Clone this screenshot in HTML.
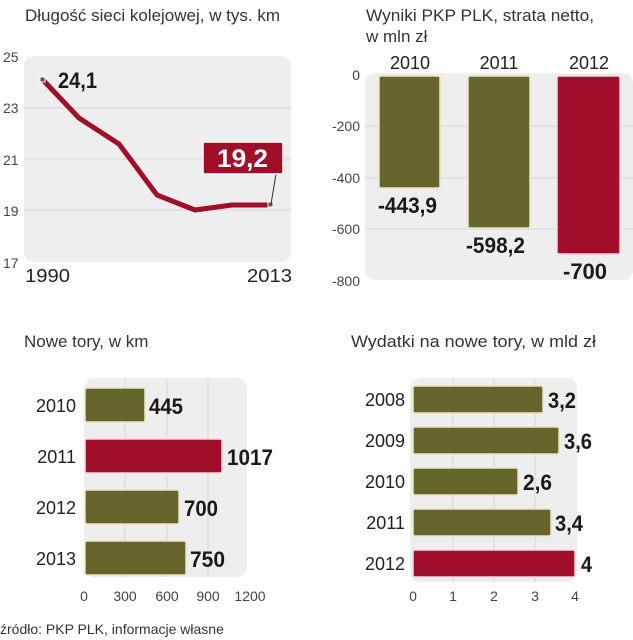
<!DOCTYPE html>
<html><head><meta charset="utf-8"><style>
html,body{margin:0;padding:0;background:#fff;}
svg{display:block;font-family:"Liberation Sans",sans-serif;}
.t{font-size:17px;fill:#333;}
.ax{font-size:14px;fill:#444;}
.yr{font-size:18px;fill:#222;}
.v{font-size:22px;font-weight:bold;fill:#1a1a1a;}
.g{stroke:#d6d6d6;stroke-width:1;}
.ol{fill:#66652b;stroke:#e8e3c8;stroke-width:1.5;}
.rd{fill:#a10e2a;stroke:#f0d8dc;stroke-width:1.5;}
</style></head><body>
<svg width="633" height="640" viewBox="0 0 633 640">
<!-- chart 1 -->
<text class="t" x="25" y="21" textLength="255" lengthAdjust="spacingAndGlyphs">Długość sieci kolejowej, w tys. km</text>
<rect x="24" y="56" width="267" height="206" rx="10" fill="#eeeeee"/>
<line class="g" x1="24" y1="108" x2="291" y2="108"/>
<line class="g" x1="24" y1="159" x2="291" y2="159"/>
<line class="g" x1="24" y1="210" x2="291" y2="210"/>
<text class="ax" x="3" y="62">25</text>
<text class="ax" x="3" y="113">23</text>
<text class="ax" x="3" y="165">21</text>
<text class="ax" x="3" y="216">19</text>
<text class="ax" x="3" y="268">17</text>
<polyline points="43,80 79,118 119,144 157,195 195,210 232,205 271,205" fill="none" stroke="#a10e2a" stroke-width="5" stroke-linejoin="round"/>
<rect x="40" y="77" width="5" height="5" fill="#555" stroke="#fff"/>
<rect x="268" y="202" width="5" height="5" fill="#555" stroke="#fff"/>
<line x1="271" y1="204" x2="276" y2="174" stroke="#333" stroke-width="1"/>
<text class="v" x="58" y="88" textLength="39" lengthAdjust="spacingAndGlyphs">24,1</text>
<rect x="203" y="142" width="80" height="32" rx="2" fill="#a10e2a" stroke="#fff" stroke-width="1.5"/>
<text x="217" y="167" font-size="25" font-weight="bold" fill="#fff" textLength="51" lengthAdjust="spacingAndGlyphs">19,2</text>
<text class="yr" x="25" y="282" font-size="20" textLength="45" lengthAdjust="spacingAndGlyphs">1990</text>
<text class="yr" x="247" y="282" font-size="20" textLength="45" lengthAdjust="spacingAndGlyphs">2013</text>
<!-- chart 2 -->
<text class="t" x="366" y="21" textLength="228" lengthAdjust="spacingAndGlyphs">Wyniki PKP PLK, strata netto,</text>
<text class="t" x="366" y="42">w mln zł</text>
<rect x="365" y="73" width="268" height="207" rx="10" fill="#eeeeee"/>
<line class="g" x1="365" y1="126" x2="633" y2="126"/>
<line class="g" x1="365" y1="178" x2="633" y2="178"/>
<line class="g" x1="365" y1="229" x2="633" y2="229"/>
<text class="ax" x="360" y="80" text-anchor="end">0</text>
<text class="ax" x="360" y="131" text-anchor="end">-200</text>
<text class="ax" x="360" y="183" text-anchor="end">-400</text>
<text class="ax" x="360" y="234" text-anchor="end">-600</text>
<text class="ax" x="360" y="286" text-anchor="end">-800</text>
<text class="yr" x="410" y="69" text-anchor="middle">2010</text>
<text class="yr" x="499" y="69" text-anchor="middle">2011</text>
<text class="yr" x="589" y="69" text-anchor="middle">2012</text>
<rect class="ol" x="379" y="76" width="61" height="112" rx="2"/>
<rect class="ol" x="468" y="76" width="62" height="152" rx="2"/>
<rect class="rd" x="557" y="76" width="63" height="178" rx="2"/>
<text class="v" x="378" y="213" textLength="59" lengthAdjust="spacingAndGlyphs">-443,9</text>
<text class="v" x="466" y="253" textLength="59" lengthAdjust="spacingAndGlyphs">-598,2</text>
<text class="v" x="563" y="279" textLength="44" lengthAdjust="spacingAndGlyphs">-700</text>
<!-- chart 3 -->
<text class="t" x="24" y="347">Nowe tory, w km</text>
<rect x="84" y="378" width="163" height="199" rx="10" fill="#eeeeee"/>
<line class="g" x1="125" y1="378" x2="125" y2="577"/>
<line class="g" x1="167" y1="378" x2="167" y2="577"/>
<line class="g" x1="208" y1="378" x2="208" y2="577"/>
<rect class="ol" x="85" y="388" width="60" height="34" rx="2"/>
<rect class="rd" x="85" y="439" width="137" height="34" rx="2"/>
<rect class="ol" x="85" y="490" width="94" height="34" rx="2"/>
<rect class="ol" x="85" y="541" width="101" height="34" rx="2"/>
<text class="yr" x="76" y="412" text-anchor="end">2010</text>
<text class="yr" x="76" y="463" text-anchor="end">2011</text>
<text class="yr" x="76" y="514" text-anchor="end">2012</text>
<text class="yr" x="76" y="565" text-anchor="end">2013</text>
<text class="v" x="149" y="414" textLength="34" lengthAdjust="spacingAndGlyphs">445</text>
<text class="v" x="227" y="465" textLength="46" lengthAdjust="spacingAndGlyphs">1017</text>
<text class="v" x="184" y="516" textLength="34" lengthAdjust="spacingAndGlyphs">700</text>
<text class="v" x="190" y="567" textLength="35" lengthAdjust="spacingAndGlyphs">750</text>
<text class="ax" x="84" y="601" text-anchor="middle">0</text>
<text class="ax" x="125" y="601" text-anchor="middle">300</text>
<text class="ax" x="167" y="601" text-anchor="middle">600</text>
<text class="ax" x="208" y="601" text-anchor="middle">900</text>
<text class="ax" x="250" y="601" text-anchor="middle">1200</text>
<text x="0" y="634" font-size="14" fill="#333">źródło: PKP PLK, informacje własne</text>
<!-- chart 4 -->
<text class="t" x="351" y="347" textLength="245" lengthAdjust="spacingAndGlyphs">Wydatki na nowe tory, w mld zł</text>
<rect x="410" y="378" width="167" height="204" rx="10" fill="#eeeeee"/>
<line class="g" x1="453" y1="378" x2="453" y2="582"/>
<line class="g" x1="494" y1="378" x2="494" y2="582"/>
<line class="g" x1="535" y1="378" x2="535" y2="582"/>
<rect class="ol" x="413" y="386" width="130" height="27" rx="2"/>
<rect class="ol" x="413" y="427" width="146" height="27" rx="2"/>
<rect class="ol" x="413" y="468" width="105" height="27" rx="2"/>
<rect class="ol" x="413" y="509" width="138" height="27" rx="2"/>
<rect class="rd" x="413" y="550" width="162" height="27" rx="2"/>
<text class="yr" x="405" y="406" text-anchor="end">2008</text>
<text class="yr" x="405" y="447" text-anchor="end">2009</text>
<text class="yr" x="405" y="488" text-anchor="end">2010</text>
<text class="yr" x="405" y="529" text-anchor="end">2011</text>
<text class="yr" x="405" y="570" text-anchor="end">2012</text>
<text class="v" x="548" y="408" textLength="28" lengthAdjust="spacingAndGlyphs">3,2</text>
<text class="v" x="564" y="449" textLength="28" lengthAdjust="spacingAndGlyphs">3,6</text>
<text class="v" x="523" y="490" textLength="29" lengthAdjust="spacingAndGlyphs">2,6</text>
<text class="v" x="555" y="531" textLength="28" lengthAdjust="spacingAndGlyphs">3,4</text>
<text class="v" x="581" y="572" textLength="11" lengthAdjust="spacingAndGlyphs">4</text>
<text class="ax" x="413" y="601" text-anchor="middle">0</text>
<text class="ax" x="453" y="601" text-anchor="middle">1</text>
<text class="ax" x="494" y="601" text-anchor="middle">2</text>
<text class="ax" x="535" y="601" text-anchor="middle">3</text>
<text class="ax" x="575" y="601" text-anchor="middle">4</text>
</svg>
</body></html>
